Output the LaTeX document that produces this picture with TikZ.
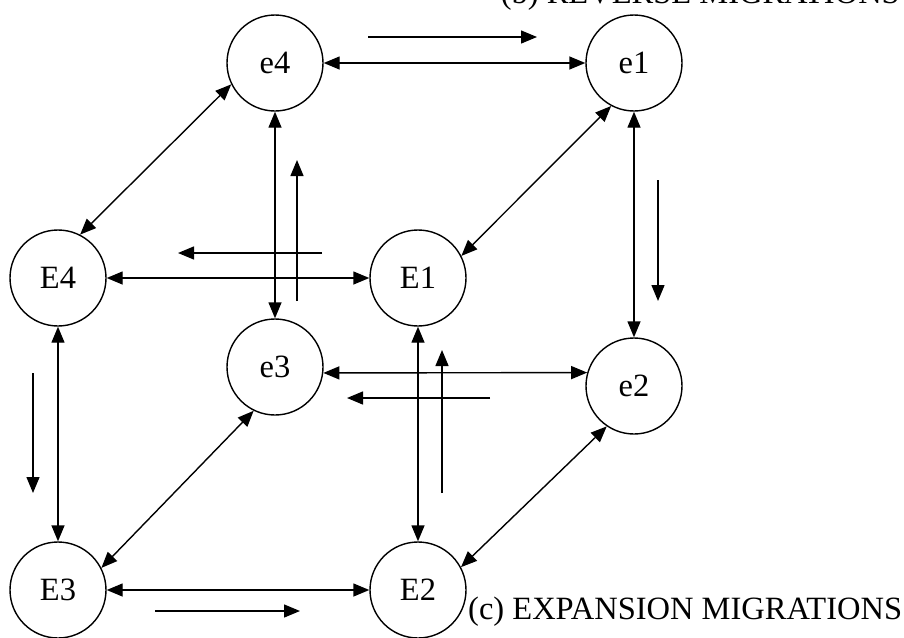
\documentclass[tikz,border=0pt]{standalone}
\usepackage{fontspec}
\setmainfont{Liberation Serif}
\usetikzlibrary{arrows.meta}

\begin{document}
\begin{tikzpicture}[x=1pt,y=-1pt,
  state/.style={circle,draw,line width=1.4pt,minimum size=96pt,inner sep=0pt,
    outer sep=0.7pt,font=\fontsize{32.5}{32.5}\selectfont},
  link/.style={line width=1.4pt,{Triangle[length=16pt,width=13pt]}-{Triangle[length=16pt,width=13pt]}},
  flow/.style={line width=1.4pt,-{Triangle[length=16pt,width=13pt]}},
  caption/.style={font=\fontsize{32.5}{32.5}\selectfont,inner sep=0pt}]
  \useasboundingbox (0,0) rectangle (904,637);

  % the eight states: upper face e1..e4, lower face E1..E4
  \node[state] (e4) at (275,63)  {e4};
  \node[state] (e1) at (634,63)  {e1};
  \node[state] (E4) at (58,278)  {E4};
  \node[state] (E1) at (418,278) {E1};
  \node[state] (e3) at (275,367) {e3};
  \node[state] (e2) at (634,386) {e2};
  \node[state] (E3) at (58,590)  {E3};
  \node[state] (E2) at (418,590) {E2};

  % two-way links between states
  \draw[link] (e4) -- (e1);
  \draw[link] (e4) -- (e3);
  \draw[link] (e1) -- (e2);
  \draw[link] (E4) -- (E1);
  \draw[link] (E4) -- (E3);
  \draw[link] (E1) -- (E2);
  \draw[link] (E3) -- (E2);
  \draw[link] (e3.-7) -- (e2.164);
  \draw[link] (e4.206) -- (E4.63);
  \draw[link] (e1.242) -- (E1.27);
  \draw[link] (e3.244) -- (E3.27);
  \draw[link] (e2.236) -- (E2.28);

  % direction markers beside the links
  \coordinate (f1a) at (368,37);  \coordinate (f1b) at (537,37);
  \coordinate (f2a) at (658,180); \coordinate (f2b) at (658,301);
  \coordinate (f3a) at (322,253); \coordinate (f3b) at (178,253);
  \coordinate (f4a) at (297,301); \coordinate (f4b) at (297,160);
  \coordinate (f5a) at (490,398); \coordinate (f5b) at (347,398);
  \coordinate (f6a) at (442,493); \coordinate (f6b) at (442,350);
  \coordinate (f7a) at (33,373);  \coordinate (f7b) at (33,493);
  \coordinate (f8a) at (155,611); \coordinate (f8b) at (300,611);
  \foreach \i in {1,...,8} \draw[flow] (f\i a) -- (f\i b);

  % captions; the upper one runs off the top edge
  \node[caption,anchor=base east] (capb) at (900,3) {(b) REVERSE MIGRATIONS};
  \node[caption,anchor=base west] (capc) at (468,619) {(c) EXPANSION MIGRATIONS};
\end{tikzpicture}
\end{document}
